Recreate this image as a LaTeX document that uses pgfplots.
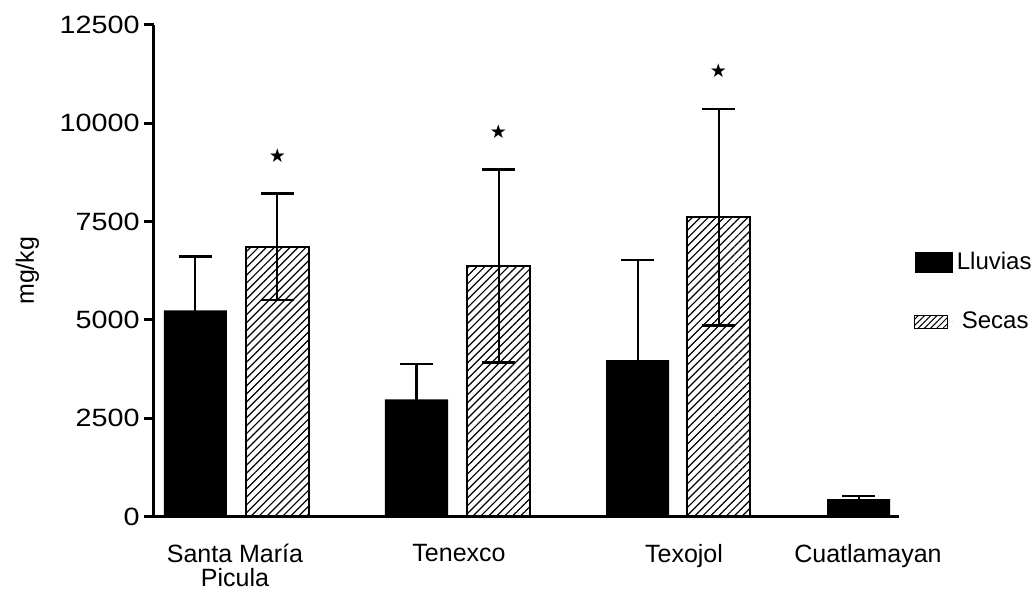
\documentclass[border=0pt]{standalone}
\usepackage{pgfplots}
\pgfplotsset{compat=1.18}
\usepackage{fontspec}
\setmainfont{Liberation Sans}
\newfontfamily\widefont[FakeStretch=1.15]{Liberation Sans}
\newfontfamily\dejavu{DejaVu Sans}
\usetikzlibrary{patterns.meta}

\begin{document}
\begin{tikzpicture}
\path[use as bounding box] (0,0) rectangle (517.5pt,-296.5pt);
\begin{axis}[
  at={(77pt,-258.25pt)}, anchor=south west,
  width=372.5pt, height=245.75pt, scale only axis,
  xmin=154, xmax=899, ymin=0, ymax=12500,
  axis x line=bottom, axis y line=left,
  axis line style={-, line width=1.5pt},
  xtick={235,459,684,868},
  xticklabels={{Santa María\\Picula},Tenexco,Texojol,Cuatlamayan},
  xticklabel style={align=center, inner sep=0pt, yshift=-8.5pt, font=\fontsize{12.5}{12}\selectfont},
  x tick style={draw=none},
  ytick={0,2500,5000,7500,10000,12500},
  scaled y ticks=false,
  y tick style={line width=1.5pt, black},
  tick align=outside, major tick length=5pt,
  yticklabel style={/pgf/number format/1000 sep={}, /pgf/number format/assume math mode=true, inner sep=0pt, xshift=-2pt, font=\widefont\fontsize{12.5}{15}\selectfont},
  ylabel={mg/kg},
  ylabel style={at={(axis description cs:-0.17,0.5)}, anchor=center},
  font=\fontsize{12.5}{15}\selectfont,
  bar width=63,
  legend style={at={(1.0201,0.5463)}, anchor=north west, draw=none, fill=none, inner sep=0pt, row sep=15.5pt, font=\fontsize{12}{14}\selectfont},
  legend cell align=left,
]
\addplot[ybar, bar shift=0pt, fill=black, draw=none,
  legend image code/.code={\fill[black] (0pt,-5.25pt) rectangle (19pt,5.25pt);},
  error bars/.cd, y dir=both, y explicit,
  error bar style={line width=1pt, black},
  error mark options={line width=1.3pt, black, mark size=8.25pt, rotate=90},
  ]
  table[x=x, y=y, y error=e] {
x y e
195.5 5244 1363
416.5 2981 897
637.5 3980 2543
858.5 445 76
};
\addlegendentry{Lluvias}
\addplot[ybar, bar shift=0pt, draw=black, line width=1pt,
  pattern={Lines[angle=45,distance=2.8pt,line width=0.6pt]},
  legend image code/.code={\path[draw=none] (0pt,0pt) -- (19pt,0pt);
    \draw[black, line width=0.6pt, pattern={Lines[angle=45,distance=2.2pt,line width=0.5pt]}] (0pt,-3.25pt) rectangle (16.5pt,3.25pt);},
  error bars/.cd, y dir=both, y explicit,
  error bar style={line width=1pt, black},
  error mark options={line width=1.3pt, black, mark size=8.25pt, rotate=90},
  ]
  table[x=x, y=y, y error=e] {
x y e
277.5 6858 1352
498.5 6376 2454
718.5 7608 2755
};
\addlegendentry{\hspace{2.5pt}Secas}
\addplot[only marks, mark=text, text mark={\dejavu\char"2605}, text mark as node=true,
  mark options={font=\fontsize{9.5}{9.5}\selectfont}, forget plot]
  table[x=x, y=y] {
x y
277.5 9180
498.5 9779
718.5 11338
};
\end{axis}
\end{tikzpicture}
\end{document}
